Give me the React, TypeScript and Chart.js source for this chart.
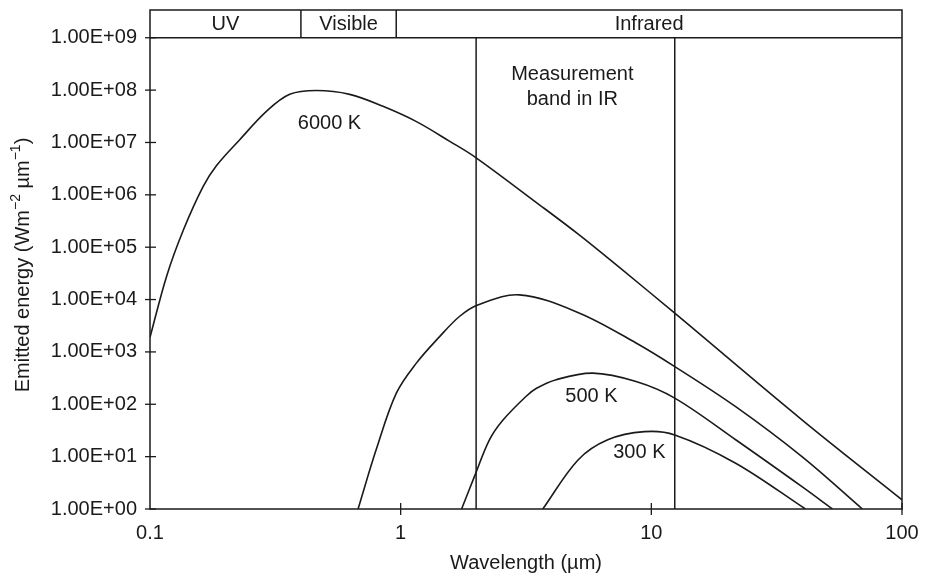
import React, { useEffect, useRef } from 'react';
import { Chart, registerables } from 'chart.js';

Chart.register(...registerables);

// ---- Data ----
const xTicks = [0.1, 1, 10, 100];
const xTickLabels = ['0.1', '1', '10', '100'];
const yTicks = [1e0, 1e1, 1e2, 1e3, 1e4, 1e5, 1e6, 1e7, 1e8, 1e9];
const yTickLabels = ['1.00E+00', '1.00E+01', '1.00E+02', '1.00E+03', '1.00E+04', '1.00E+05', '1.00E+06', '1.00E+07', '1.00E+08', '1.00E+09'];

const curve6000X = [0.1, 0.1165, 0.136, 0.163, 0.184, 0.228, 0.292, 0.361, 0.461, 0.626, 0.85, 1.156, 1.57, 2.0, 3.47, 5.17, 7.46, 12.4, 40, 100];
const curve6000Y = [1.9e3, 2.8e4, 2.15e5, 1.45e6, 3.6e6, 1.13e7, 3.96e7, 8.3e7, 9.8e7, 8.3e7, 4.9e7, 2.5e7, 1.05e7, 5.1e6, 7.2e5, 1.7e5, 4.1e4, 5.5e3, 50, 1.5];

const curve1000X = [0.676, 0.8, 0.961, 1.155, 1.43, 1.72, 2.03, 2.98, 5.17, 8.69, 12.4, 21.7, 39.9, 69.5];
const curve1000Y = [1, 14, 163, 611, 1.96e3, 4.8e3, 7.9e3, 1.23e4, 5.5e3, 1.48e3, 525, 90, 10, 1];

const curve500X = [1.75, 1.97, 2.26, 2.56, 3.16, 3.47, 4.17, 5.84, 8.69, 12.4, 21.7, 39.9, 52.8];
const curve500Y = [1, 4.2, 20.9, 50, 141, 200, 295, 393, 272, 131, 21, 2.67, 1];

const curve300X = [3.69, 5.1, 6.7, 9.4, 12.4, 21.7, 41.2];
const curve300Y = [1, 8.65, 21, 30, 26, 7.5, 1];

const spectralRegions = ['UV', 'Visible', 'Infrared'];
const regionEdges = [0.1, 0.4, 0.96, 100];
const measurementBand = [2, 12.4];
const bandFloor = 1e9;
const yMax = Math.pow(10, 9.53);

const curveLabels = ['6000 K', '500 K', '300 K'];
const curveLabelX = [0.52, 5.77, 8.96];
const curveLabelY = [2.3e7, 138, 11.8];

const bandText = ['Measurement', 'band in IR'];
const bandTextX = 4.84;
const bandTextY = [2.0e8, 6.6e7];

const xTitle = 'Wavelength (\u00b5m)';

const INK = '#1a1a1a';
const FONT = '"Liberation Sans", Arial, Helvetica, sans-serif';

function pts(xs: number[], ys: number[]) {
  return xs.map((x, i) => ({ x, y: ys[i] }));
}

const overlay = {
  id: 'overlay',
  afterDatasetsDraw(chart: any) {
    const { ctx, chartArea: a, scales } = chart;
    const x = scales.x;
    const y = scales.y;
    const line = (x1: number, y1: number, x2: number, y2: number) => {
      ctx.beginPath();
      ctx.moveTo(x1, y1);
      ctx.lineTo(x2, y2);
      ctx.stroke();
    };
    ctx.save();
    ctx.strokeStyle = INK;
    ctx.lineWidth = 1.5;
    ctx.strokeRect(a.left, a.top, a.right - a.left, a.bottom - a.top);
    const y9 = y.getPixelForValue(bandFloor);
    line(a.left, y9, a.right, y9);
    regionEdges.slice(1, -1).forEach((v) => {
      const px = x.getPixelForValue(v);
      line(px, a.top, px, y9);
    });
    measurementBand.forEach((v) => {
      const px = x.getPixelForValue(v);
      line(px, y9, px, a.bottom);
    });
    ctx.lineWidth = 1.3;
    yTicks.forEach((v) => {
      const py = y.getPixelForValue(v);
      line(a.left - 5, py, a.left + 6, py);
    });
    xTicks.slice(1).forEach((v) => {
      const px = x.getPixelForValue(v);
      line(px, a.bottom - 6, px, a.bottom + 6);
    });

    ctx.fillStyle = INK;
    ctx.font = `20px ${FONT}`;
    ctx.textAlign = 'center';
    ctx.textBaseline = 'middle';
    const yMid = (a.top + y9) / 2 + 1;
    spectralRegions.forEach((t, i) => {
      const cx = x.getPixelForValue(Math.sqrt(regionEdges[i] * regionEdges[i + 1]));
      ctx.fillText(t, cx, yMid);
    });
    curveLabels.forEach((t, i) => {
      ctx.fillText(t, x.getPixelForValue(curveLabelX[i]), y.getPixelForValue(curveLabelY[i]));
    });
    bandText.forEach((t, i) => {
      ctx.fillText(t, x.getPixelForValue(bandTextX), y.getPixelForValue(bandTextY[i]));
    });
    ctx.fillText(xTitle, (a.left + a.right) / 2, 563);

    // y-axis title with superscripts
    const parts: { t: string; sup: boolean }[] = [
      { t: 'Emitted energy (Wm', sup: false },
      { t: '\u22122', sup: true },
      { t: ' \u00b5m', sup: false },
      { t: '\u22121', sup: true },
      { t: ')', sup: false },
    ];
    const big = `20px ${FONT}`;
    const small = `14px ${FONT}`;
    let total = 0;
    parts.forEach((p) => {
      ctx.font = p.sup ? small : big;
      total += ctx.measureText(p.t).width;
    });
    ctx.translate(23, 265);
    ctx.rotate(-Math.PI / 2);
    ctx.textAlign = 'left';
    let cur = -total / 2;
    parts.forEach((p) => {
      ctx.font = p.sup ? small : big;
      ctx.fillText(p.t, cur, p.sup ? -7 : 0);
      cur += ctx.measureText(p.t).width;
    });
    ctx.restore();
  },
};

export default function App() {
  const ref = useRef<HTMLCanvasElement | null>(null);
  useEffect(() => {
    document.body.style.margin = '0';
    if (!ref.current) return;
    const ds = (xs: number[], ys: number[]) => ({
      data: pts(xs, ys),
      showLine: true,
      borderColor: INK,
      borderWidth: 1.6,
      pointRadius: 0,
      tension: 0.35,
      fill: false,
    });
    const chart = new Chart(ref.current, {
      type: 'scatter',
      data: {
        datasets: [
          ds(curve6000X, curve6000Y),
          ds(curve1000X, curve1000Y),
          ds(curve500X, curve500Y),
          ds(curve300X, curve300Y),
        ],
      },
      options: {
        animation: false,
        responsive: true,
        maintainAspectRatio: false,
        layout: { padding: { top: 10, right: 25, left: 0, bottom: 0 } },
        plugins: { legend: { display: false }, tooltip: { enabled: false } },
        scales: {
          x: {
            type: 'logarithmic',
            min: 0.1,
            max: 100,
            grid: { display: false, drawTicks: false },
            border: { display: false },
            afterBuildTicks: (s: any) => {
              s.ticks = xTicks.map((v) => ({ value: v }));
            },
            afterFit: (s: any) => {
              s.height = 68;
              s.paddingLeft = 0;
              s.paddingRight = 0;
            },
            ticks: {
              autoSkip: false,
              maxRotation: 0,
              padding: 12,
              color: INK,
              font: { family: FONT, size: 20 },
              callback: (_v: any, i: number) => xTickLabels[i],
            },
          },
          y: {
            type: 'logarithmic',
            min: 1,
            max: yMax,
            grid: { display: false, drawTicks: false },
            border: { display: false },
            afterBuildTicks: (s: any) => {
              s.ticks = yTicks.map((v) => ({ value: v }));
            },
            afterFit: (s: any) => {
              s.width = 150;
              s.paddingTop = 0;
              s.paddingBottom = 0;
            },
            ticks: {
              autoSkip: false,
              padding: 13,
              color: INK,
              font: { family: FONT, size: 20 },
              callback: (_v: any, i: number) => yTickLabels[i],
            },
          },
        },
      },
      plugins: [overlay],
    });
    return () => chart.destroy();
  }, []);
  return (
    <div style={{ width: 927, height: 577, position: 'relative', background: '#fff' }}>
      <canvas ref={ref} />
    </div>
  );
}
